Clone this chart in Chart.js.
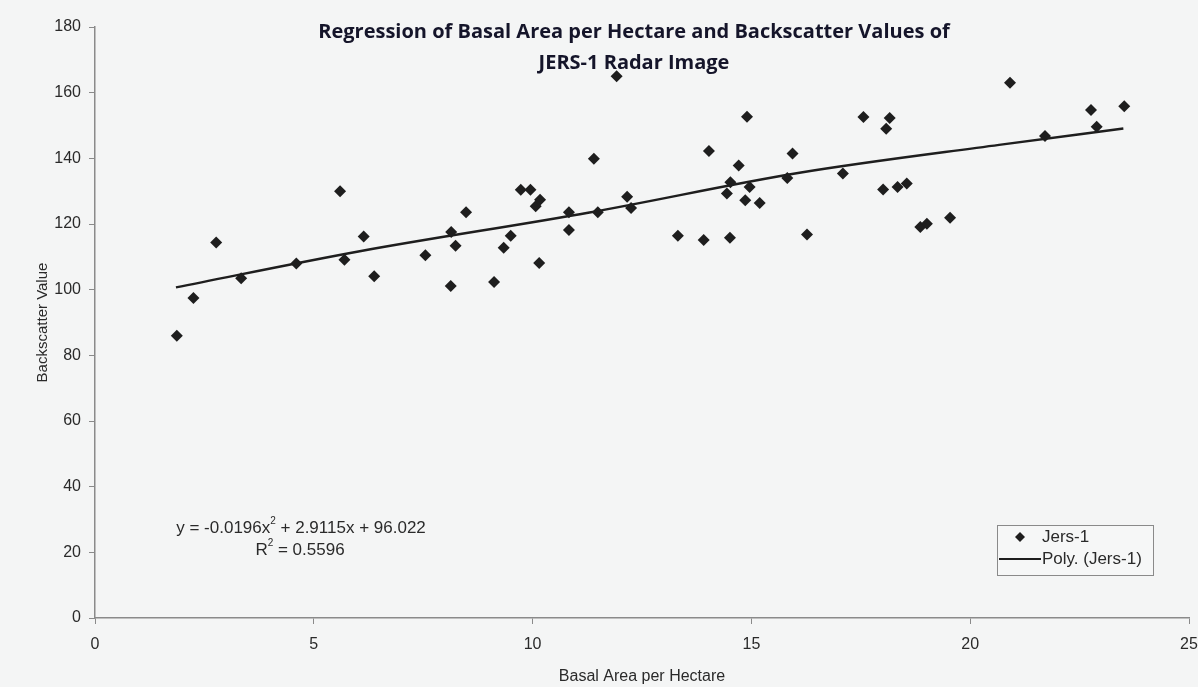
<!DOCTYPE html>
<html>
<head>
<meta charset="utf-8">
<script src="https://cdn.jsdelivr.net/npm/chart.js@4.4.1/dist/chart.umd.min.js"></script>
<style>
html, body { margin: 0; padding: 0; background: #ffffff; }
</style>
</head>
<body>
<canvas id="regChart" width="1198" height="687"></canvas>
<script>
// basal area (x) and backscatter (y)
var basalArea = [1.87, 2.25, 2.77, 3.34, 4.60, 5.60, 5.70, 6.14, 6.38, 7.55,
    8.13, 8.14, 8.24, 8.48, 9.12, 9.34, 9.50, 9.73, 9.95, 10.07,
    10.17, 10.15, 10.83, 10.83, 11.40, 11.49, 11.92, 12.16, 12.25, 13.32,
    13.91, 14.03, 14.44, 14.52, 14.51, 14.71, 14.86, 14.90, 14.96, 15.19,
    15.82, 15.94, 16.27, 17.09, 17.56, 18.01, 18.08, 18.16, 18.34, 18.55,
    18.86, 19.01, 19.54, 20.91, 21.71, 22.76, 22.89, 23.52];
var backscatter = [86.0, 97.5, 114.4, 103.5, 108.0, 130.0, 109.1, 116.2, 104.1, 110.5,
    101.1, 117.6, 113.4, 123.6, 102.3, 112.8, 116.4, 130.4, 130.4, 125.4,
    127.4, 108.1, 123.6, 118.2, 139.9, 123.6, 165.0, 128.3, 124.9, 116.4,
    115.1, 142.2, 129.3, 132.7, 115.8, 137.8, 127.2, 152.7, 131.3, 126.4,
    134.0, 141.5, 116.8, 135.4, 152.6, 130.5, 149.0, 152.3, 131.3, 132.3,
    119.1, 120.1, 121.9, 163.0, 146.8, 154.7, 149.6, 155.9];

// polynomial trend line
var trendX = [1.85, 6.05, 11.3, 16.1, 20.66, 23.5];
var trendY = [100.7, 111.7, 123.5, 135.6, 144.1, 149.1];

var xTicks = [0, 5, 10, 15, 20, 25];
var yTicks = [0, 20, 40, 60, 80, 100, 120, 140, 160, 180];

var titleLines = ['Regression of Basal Area per Hectare and Backscatter Values of', 'JERS-1 Radar Image'];
var eqParts = ['y = -0.0196x', '2', ' + 2.9115x + 96.022'];
var r2Parts = ['R', '2', ' = 0.5596'];
var legendLabels = ['Jers-1', 'Poly. (Jers-1)'];

var inkColor = '#1e1e1e';
var textFont = "'Liberation Sans', Arial, sans-serif";

function pairs(xs, ys) {
    var out = [];
    for (var i = 0; i < xs.length; i++) out.push({x: xs[i], y: ys[i]});
    return out;
}

// draws text with a superscript part, centred on cx
function drawSup(c, parts, cx, cy, size) {
    c.font = size + 'px ' + textFont;
    var w0 = c.measureText(parts[0]).width;
    var w2 = c.measureText(parts[2]).width;
    c.font = Math.round(size * 0.6) + 'px ' + textFont;
    var w1 = c.measureText(parts[1]).width;
    var x = cx - (w0 + w1 + w2) / 2;
    c.textAlign = 'left';
    c.textBaseline = 'middle';
    c.font = size + 'px ' + textFont;
    c.fillText(parts[0], x, cy);
    c.font = Math.round(size * 0.6) + 'px ' + textFont;
    c.fillText(parts[1], x + w0, cy - size * 0.38);
    c.font = size + 'px ' + textFont;
    c.fillText(parts[2], x + w0 + w1, cy);
}

var paperPlugin = {
    id: 'paper',
    beforeDraw: function(chart) {
        var c = chart.ctx;
        c.save();
        c.fillStyle = '#f4f5f5';
        c.fillRect(0, 0, chart.width, chart.height);
        c.restore();
    },
    afterDraw: function(chart) {
        var c = chart.ctx;
        c.save();
        // title
        c.fillStyle = '#15152a';
        c.font = "bold 20px 'Open Sans', Lato, sans-serif";
        c.textAlign = 'center';
        c.textBaseline = 'middle';
        c.fillText(titleLines[0], 634, 32);
        c.fillText(titleLines[1], 634, 63);

        // equation + r squared
        c.fillStyle = '#2a2a2a';
        drawSup(c, eqParts, 301, 528, 17);
        drawSup(c, r2Parts, 300, 550, 17);

        // legend box
        c.strokeStyle = '#8a8a8a';
        c.lineWidth = 1;
        c.fillStyle = '#f6f7f7';
        c.fillRect(997, 525, 156, 50);
        c.strokeRect(997.5, 525.5, 156, 50);
        c.fillStyle = inkColor;
        c.beginPath();
        c.moveTo(1020, 532);
        c.lineTo(1025, 537);
        c.lineTo(1020, 542);
        c.lineTo(1015, 537);
        c.closePath();
        c.fill();
        c.strokeStyle = inkColor;
        c.lineWidth = 2;
        c.beginPath();
        c.moveTo(999, 559);
        c.lineTo(1041, 559);
        c.stroke();
        c.fillStyle = '#2a2a2a';
        c.font = '17px ' + textFont;
        c.textAlign = 'left';
        c.textBaseline = 'middle';
        c.fillText(legendLabels[0], 1042, 537);
        c.fillText(legendLabels[1], 1042, 559);
        c.restore();
    }
};

var ctx = document.getElementById('regChart');

var myChart = new Chart(ctx, {
    type: 'scatter',
    data: {
        datasets: [{
            label: legendLabels[0],
            data: pairs(basalArea, backscatter),
            pointStyle: 'rectRot',
            pointRadius: 6,
            pointHoverRadius: 6,
            backgroundColor: inkColor,
            borderWidth: 0
        }, {
            label: legendLabels[1],
            data: pairs(trendX, trendY),
            showLine: true,
            pointRadius: 0,
            borderColor: inkColor,
            borderWidth: 2.5,
            cubicInterpolationMode: 'monotone',
            fill: false
        }]
    },
    options: {
        responsive: false,
        animation: false,
        layout: {
            padding: {top: 27, right: 0, left: 0, bottom: 0}
        },
        plugins: {
            legend: {display: false},
            tooltip: {enabled: false}
        },
        scales: {
            x: {
                type: 'linear',
                min: 0,
                max: 25,
                afterBuildTicks: function(scale) {
                    scale.ticks = xTicks.map(function(v) { return {value: v}; });
                },
                afterFit: function(scale) {
                    scale.height = 69;
                    scale.paddingRight = 9;
                },
                grid: {drawOnChartArea: false, tickLength: 6, color: '#8a8a8a'},
                border: {color: '#8a8a8a', width: 1.5},
                ticks: {color: '#2a2a2a', padding: 11, font: {size: 16, family: textFont}},
                title: {
                    display: true,
                    text: 'Basal Area per Hectare',
                    color: '#2a2a2a',
                    font: {size: 16, family: textFont},
                    padding: {top: 0, bottom: 1}
                }
            },
            y: {
                min: 0,
                max: 180,
                afterBuildTicks: function(scale) {
                    scale.ticks = yTicks.map(function(v) { return {value: v}; });
                },
                afterFit: function(scale) { scale.width = 95; },
                grid: {drawOnChartArea: false, tickLength: 6, color: '#8a8a8a'},
                border: {color: '#8a8a8a', width: 1.5},
                ticks: {color: '#2a2a2a', padding: 8, font: {size: 16, family: textFont}},
                title: {
                    display: true,
                    text: 'Backscatter Value',
                    color: '#2a2a2a',
                    font: {size: 15, family: textFont},
                    padding: {top: 34, bottom: 0}
                }
            }
        }
    },
    plugins: [paperPlugin]
});
</script>
</body>
</html>
